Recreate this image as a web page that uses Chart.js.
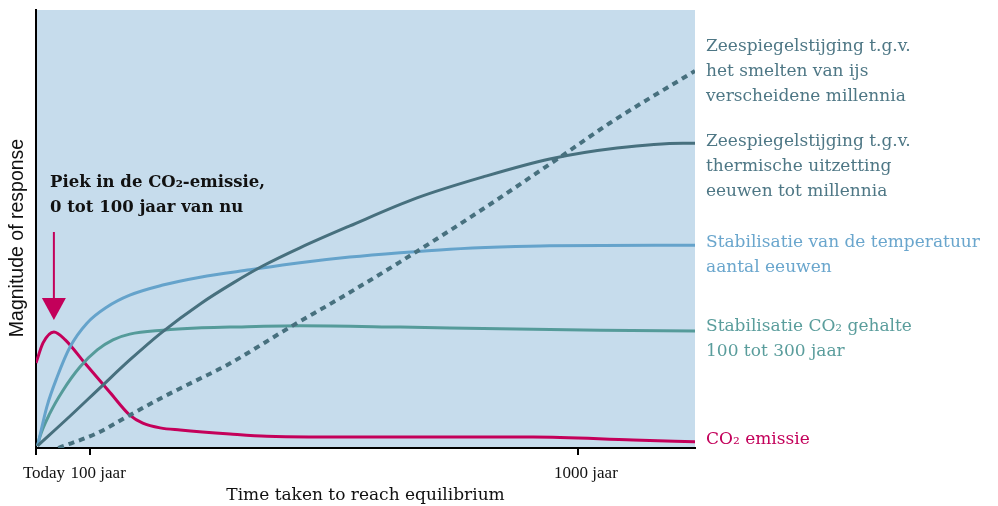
<!DOCTYPE html>
<html>
<head>
<meta charset="utf-8">
<script src="https://cdn.jsdelivr.net/npm/chart.js@4/dist/chart.umd.min.js"></script>
<style>
  html, body { margin: 0; padding: 0; background: #ffffff; }
  #wrap { width: 998px; height: 506px; position: relative; }
</style>
</head>
<body>
<div id="wrap"><canvas id="c" width="998" height="506"></canvas></div>
<script>
// ---- data (x in years from today, y = relative magnitude 0..100) ----
const tickYears = [0, 100, 1000];
const tickLabels = ['Today', '100 jaar', '1000 jaar'];

const co2EmisYears  = [0, 13, 33, 54, 90, 137, 173, 197, 229, 266, 358, 426, 611, 917, 1102, 1216];
const co2EmisValues = [19.4, 24.0, 26.5, 24.7, 19.4, 12.6, 7.5, 5.7, 4.6, 4.1, 3.2, 2.7, 2.5, 2.5, 1.8, 1.4];

const co2LevelYears  = [3, 7, 26, 50, 81, 113, 142, 173, 234, 297, 358, 487, 672, 856, 1041, 1216];
const co2LevelValues = [0.5, 2.5, 8.0, 13.2, 18.5, 22.4, 24.7, 26.0, 26.9, 27.4, 27.6, 27.9, 27.6, 27.2, 26.9, 26.7];

const tempYears  = [3, 20, 39, 63, 94, 131, 173, 234, 303, 395, 487, 579, 672, 764, 856, 948, 1216];
const tempValues = [0.5, 9.4, 16.2, 23.1, 28.5, 32.2, 34.9, 37.2, 39.0, 40.7, 42.3, 43.6, 44.6, 45.4, 45.9, 46.2, 46.3];

const thermYears  = [3, 63, 122, 173, 231, 303, 364, 419, 487, 579, 703, 825, 948, 1072, 1194, 1216];
const thermValues = [0.5, 7.3, 14.2, 20.1, 26.3, 32.9, 37.7, 41.6, 45.7, 50.7, 57.1, 61.9, 66.0, 68.5, 69.6, 69.6];

const iceYears  = [41, 113, 173, 234, 297, 352, 469, 561, 672, 819, 967, 1059, 1216];
const iceValues = [0, 3.4, 7.5, 11.6, 15.5, 18.9, 27.6, 34.2, 42.5, 54.1, 66.4, 74.2, 86.1];

const seriesNames = [
  'CO₂ emissie',
  'Stabilisatie CO₂ gehalte',
  'Stabilisatie van de temperatuur',
  'Zeespiegelstijging thermische uitzetting',
  'Zeespiegelstijging smelten van ijs'
];

const rightLabels = [
  { lines: ['Zeespiegelstijging t.g.v.', 'het smelten van ijs', 'verscheidene millennia'], y: 47, color: '#4e7785' },
  { lines: ['Zeespiegelstijging t.g.v.', 'thermische uitzetting', 'eeuwen tot millennia'], y: 142, color: '#4e7785' },
  { lines: ['Stabilisatie van de temperatuur', 'aantal eeuwen'], y: 243, color: '#6aa6cd' },
  { lines: ['Stabilisatie CO₂ gehalte', '100 tot 300 jaar'], y: 327, color: '#5a9d9c' },
  { lines: ['CO₂ emissie'], y: 440, color: '#c3005a' }
];

const annotationLines = ['Piek in de CO₂-emissie,', '0 tot 100 jaar van nu'];

function pts(xs, ys) { return xs.map((x, i) => ({ x: x, y: ys[i] })); }

const SERIF = '"DejaVu Serif", "Liberation Serif", serif';
const TICKSERIF = '"Liberation Serif", "DejaVu Serif", serif';

const bgPlugin = {
  id: 'bg',
  beforeDraw(chart) {
    const { ctx, chartArea: a } = chart;
    ctx.save();
    ctx.fillStyle = '#c6dcec';
    ctx.fillRect(a.left, a.top, a.right - a.left, a.bottom - a.top);
    ctx.restore();
  }
};

const textPlugin = {
  id: 'texts',
  afterDraw(chart) {
    const { ctx, chartArea: a, scales } = chart;
    ctx.save();
    // right-hand labels
    ctx.textBaseline = 'middle';
    ctx.textAlign = 'left';
    ctx.font = '17px ' + SERIF;
    rightLabels.forEach(l => {
      ctx.fillStyle = l.color;
      l.lines.forEach((t, i) => ctx.fillText(t, a.right + 11, l.y + i * 25));
    });
    // y axis title
    ctx.save();
    ctx.translate(18, 238);
    ctx.rotate(-Math.PI / 2);
    ctx.textAlign = 'center';
    ctx.fillStyle = '#111';
    ctx.font = '19.5px "Liberation Sans", Arial, sans-serif';
    ctx.fillText('Magnitude of response', 0, 0);
    ctx.restore();
    // annotation
    ctx.fillStyle = '#111';
    ctx.textAlign = 'left';
    ctx.font = 'bold 16.5px ' + SERIF;
    annotationLines.forEach((t, i) => ctx.fillText(t, 50, 183 + i * 25));
    // arrow to the emission peak
    const peakIdx = co2EmisValues.indexOf(Math.max(...co2EmisValues));
    const px = scales.x.getPixelForValue(co2EmisYears[peakIdx]);
    const py = scales.y.getPixelForValue(co2EmisValues[peakIdx]);
    const tipY = py - 12;
    ctx.strokeStyle = '#c3005a';
    ctx.fillStyle = '#c3005a';
    ctx.lineWidth = 2;
    ctx.beginPath();
    ctx.moveTo(px, 232);
    ctx.lineTo(px, tipY - 18);
    ctx.stroke();
    ctx.beginPath();
    ctx.moveTo(px - 12, tipY - 22);
    ctx.lineTo(px + 12, tipY - 22);
    ctx.lineTo(px, tipY);
    ctx.closePath();
    ctx.fill();
    ctx.restore();
  }
};

const lineBase = { pointRadius: 0, fill: false, cubicInterpolationMode: 'monotone', borderWidth: 3 };

new Chart(document.getElementById('c'), {
  type: 'line',
  data: {
    datasets: [
      Object.assign({}, lineBase, { label: seriesNames[4], data: pts(iceYears, iceValues), borderColor: '#47707e', borderDash: [6, 5], borderWidth: 4 }),
      Object.assign({}, lineBase, { label: seriesNames[3], data: pts(thermYears, thermValues), borderColor: '#47707e' }),
      Object.assign({}, lineBase, { label: seriesNames[2], data: pts(tempYears, tempValues), borderColor: '#65a3cb' }),
      Object.assign({}, lineBase, { label: seriesNames[1], data: pts(co2LevelYears, co2LevelValues), borderColor: '#559b9a' }),
      Object.assign({}, lineBase, { label: seriesNames[0], data: pts(co2EmisYears, co2EmisValues), borderColor: '#c4005a' })
    ]
  },
  options: {
    responsive: false,
    animation: false,
    layout: { padding: { top: 10, right: 303, bottom: 0, left: 0 } },
    plugins: { legend: { display: false }, tooltip: { enabled: false } },
    scales: {
      x: {
        type: 'linear',
        min: 0,
        max: 1216,
        afterBuildTicks: s => { s.ticks = tickYears.map(v => ({ value: v })); },
        afterFit: s => { s.height = 58; },
        ticks: {
          callback: (v) => { const i = tickYears.indexOf(v); return i >= 0 ? tickLabels[i] : ''; },
          font: { family: TICKSERIF, size: 17 },
          color: '#111',
          padding: 8,
          labelOffset: 8,
          maxRotation: 0,
          autoSkip: false
        },
        grid: { display: true, drawOnChartArea: false, drawTicks: true, tickLength: 7, tickColor: '#000', tickWidth: 2, lineWidth: 2, color: '#000' },
        border: { display: true, color: '#000', width: 2 },
        title: { display: true, text: 'Time taken to reach equilibrium', font: { family: SERIF, size: 17 }, color: '#111', padding: { top: 0, bottom: 0 } }
      },
      y: {
        min: 0,
        max: 100,
        afterFit: s => { s.width = 36; },
        ticks: { display: false },
        grid: { display: false },
        border: { display: true, color: '#000', width: 2 }
      }
    }
  },
  plugins: [bgPlugin, textPlugin]
});
</script>
</body>
</html>
